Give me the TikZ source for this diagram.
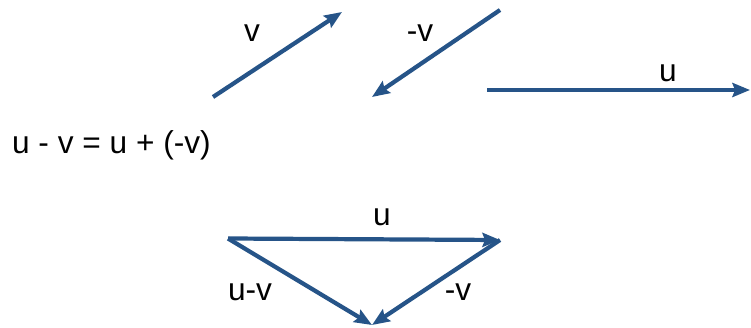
\documentclass[tikz,border=0pt]{standalone}
\usepackage{fontspec}
\setmainfont{Liberation Sans}
\usepackage{tikz}
\usetikzlibrary{arrows.meta, positioning}

\begin{document}
\begin{tikzpicture}[
  font=\fontsize{18}{21}\selectfont,
  vec/.style={line width=2.4pt, draw=vecblue, -{Stealth[length=10pt, width=8pt, inset=1.5pt]}},
  lbl/.style={inner sep=1pt},
]
\definecolor{vecblue}{RGB}{38,84,136}
\useasboundingbox (0,0) rectangle (15.02,-6.56);
\coordinate (v0) at (4.26,-1.94);
\coordinate (v1) at (6.84,-0.24);
\coordinate (w0) at (10.0,-0.2);
\coordinate (w1) at (7.44,-1.94);
\coordinate (u0) at (9.74,-1.8);
\coordinate (u1) at (15.0,-1.8);
\draw[vec] (v0) -- (v1);
\draw[vec] (w0) -- (w1);
\draw[vec] (u0) -- (u1);
\node[lbl] (lv) at (5.04,-0.66) {v};
\node[lbl] (lw) at (8.4,-0.66) {-v};
\node[lbl] (lu) at (13.36,-1.46) {u};
\node[lbl, anchor=west] (eqn) at (0.2,-2.9) {u - v = u + (-v)};
\coordinate (ta) at (4.56,-4.77);
\coordinate (tb) at (10.0,-4.8);
\coordinate (tc) at (7.44,-6.5);
\draw[vec] (ta) -- (tb);
\draw[vec] (tb) -- (tc);
\draw[vec] (ta) -- (tc);
\node[lbl] (su) at (7.64,-4.34) {u};
\node[lbl] (sd) at (5.0,-5.84) {u-v};
\node[lbl] (sw) at (9.16,-5.84) {-v};
\end{tikzpicture}
\end{document}
